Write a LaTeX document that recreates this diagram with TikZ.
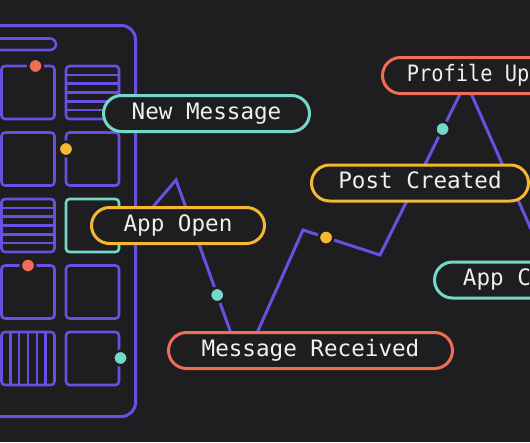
\documentclass[tikz,border=0pt]{standalone}
\usepackage{fontspec}
\setmonofont{DejaVu Sans Mono}
\usepackage{tikz}
\usetikzlibrary{calc}
\usepackage{xcolor}
\definecolor{bg}{HTML}{1E1D20}
\definecolor{lineviolet}{HTML}{6A4FE2}
\definecolor{evteal}{HTML}{72D8C8}
\definecolor{evyellow}{HTML}{F4B832}
\definecolor{evcoral}{HTML}{F06C52}

\begin{document}
\begin{tikzpicture}[x=1pt, y=-1pt,
  tile/.style={draw=lineviolet, line width=2.6pt, rounded corners=3.5pt},
  stripe/.style={draw=lineviolet, line width=2.6pt},
  dot/.style={circle, fill=#1, draw=bg, line width=2.6pt, minimum size=14.5pt, inner sep=0pt},
  pill/.style={draw=#1, line width=3pt, fill=bg, rounded corners=18pt,
    minimum height=36pt, inner sep=0pt, outer sep=0pt, text=white!94!black,
    text height=16.5pt, text depth=5pt, font=\ttfamily\fontsize{22.6}{26}\selectfont}]
  \fill[bg] (0,0) rectangle (530,442);
  \useasboundingbox (0,0) rectangle (530,442);
  \clip (0,0) rectangle (530,442);

  % phone
  \draw[lineviolet, line width=3pt, rounded corners=14pt] (-20,25.5) rectangle (135.5,416.5);
  \draw[lineviolet, line width=2.6pt, rounded corners=6pt] (-10,38.5) rectangle (56,50);
  \foreach \col/\row in {0/0,1/0,0/1,1/1,0/2,0/3,1/3,0/4,1/4}
    \draw[tile] ({1.5+64.5*\col},{66+66.5*\row}) rectangle +(53,53);
  \draw[tile, draw=evteal] (66,199) rectangle +(53,53);
  \foreach \k in {1,...,5} {
    \draw[stripe] (66,{66+\k*53/6}) -- +(53,0);
    \draw[stripe] (1.5,{199+\k*53/6}) -- +(53,0);
    \draw[stripe] ({1.5+\k*53/6},332) -- +(0,53);
  }
  \node[dot=evcoral] (t1) at (35.5,66) {};
  \node[dot=evyellow] (t2) at (66,149) {};
  \node[dot=evcoral] (t3) at (28,265.5) {};
  \node[dot=evteal] (t4) at (120.5,358) {};

  % event line
  \coordinate (z0) at (140,222);
  \coordinate (z1) at (176,180);
  \coordinate (z2) at (242.5,365.5);
  \coordinate (z3) at (303,230);
  \coordinate (z4) at (380,255);
  \coordinate (z5) at (466,82);
  \coordinate (z6) at (560,295);
  \draw[lineviolet, line width=3pt] (z0) -- (z1) -- (z2);
  \draw[lineviolet, line width=3pt] (z2) -- (z3) -- (z4) -- (z5) -- (z6);
  \node[dot=evteal] (d1) at ($(z1)!0.62!(z2)$) {};
  \node[dot=evyellow] (d2) at ($(z3)!0.3!(z4)$) {};
  \node[dot=evteal] (d3) at ($(z4)!0.728!(z5)$) {};

  % events
  \node[pill=evteal, minimum width=206pt] (newmsg) at (206.5,113.5) {New Message};
  \node[pill=evyellow, minimum width=173pt] (appopen) at (178,225.5) {App Open};
  \node[pill=evcoral, minimum width=284pt] (msgrecv) at (310.5,350.5) {Message Received};
  \node[pill=evyellow, minimum width=217pt] (postcr) at (420,183) {Post Created};
  \node[pill=evcoral, minimum width=232.6pt, anchor=west] (profile) at (382.5,75.5)
    {\addfontfeature{FakeStretch=0.9}Profile Updated};
  \node[pill=evteal, minimum width=193pt, anchor=west] (appclose) at (434.5,280) {App Closed};
\end{tikzpicture}
\end{document}
